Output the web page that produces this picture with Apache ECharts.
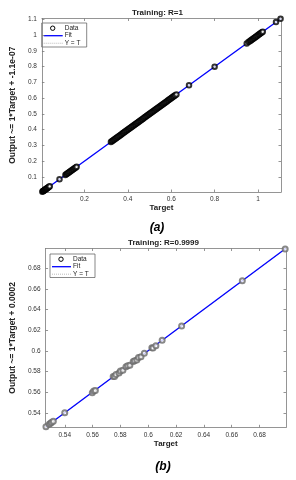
<!DOCTYPE html>
<html><head><meta charset="utf-8">
<script src="https://cdn.jsdelivr.net/npm/echarts@6/dist/echarts.min.js"></script>
<style>html,body{margin:0;padding:0;background:#fff}#c{width:296px;height:480px}</style>
</head><body><div id="c"></div>
<script>
// ---- Panel (a) data ----
const targetsA = [0.006,0.008,0.010,0.012,0.014,0.016,0.018,0.020,0.022,0.024,0.026,0.028,0.031,0.034,0.037,0.040,
  0.085,
  0.112,0.116,0.120,0.124,0.128,0.132,0.136,0.140,0.144,0.148,0.152,0.156,0.160,0.164,
  0.322,0.326,0.330,0.334,0.338,0.342,0.346,0.350,0.354,0.358,0.362,0.366,0.370,0.374,0.378,0.382,0.386,0.390,
  0.394,0.398,0.402,0.406,0.410,0.414,0.418,0.422,0.426,0.430,0.434,0.438,0.442,0.446,0.450,0.454,0.458,0.462,
  0.466,0.470,0.474,0.478,0.482,0.486,0.490,0.494,0.498,0.502,0.506,0.510,0.514,0.518,0.522,0.526,0.530,0.534,
  0.538,0.542,0.546,0.550,0.554,0.558,0.562,0.566,0.570,0.574,0.578,0.582,0.586,0.590,0.594,0.598,0.602,0.606,
  0.610,0.614,0.618,0.624,
  0.682,0.800,
  0.948,0.956,0.962,0.966,0.970,0.974,0.978,0.982,0.986,0.990,0.994,0.998,1.002,1.006,1.010,1.014,1.018,1.022,
  1.083,1.104];
const outputsA = targetsA.slice(); // R = 1: outputs equal targets
const fitA = [[0.004,0.004],[1.106,1.106]];
const ticksA = [0.2,0.4,0.6,0.8,1];
const yTicksA = [0.1,0.2,0.3,0.4,0.5,0.6,0.7,0.8,0.9,1,1.1];

// ---- Panel (b) data ----
const targetsB = [0.5265,0.5288,0.5298,0.5306,0.5318,0.5400,0.5598,0.5608,0.5620,0.5748,0.5758,0.5768,0.5790,0.5800,
  0.5818,0.5840,0.5852,0.5868,0.5892,0.5902,0.5918,0.5930,0.5948,0.5972,0.6026,0.6034,0.6055,0.6100,0.6240,0.6676,0.6984];
const outputsB = [0.5267,0.5292,0.5300,0.5310,0.5320,0.5402,0.5596,0.5612,0.5618,0.5754,0.5752,0.5772,0.5786,0.5806,
  0.5814,0.5846,0.5856,0.5862,0.5898,0.5906,0.5912,0.5936,0.5944,0.5978,0.6030,0.6028,0.6050,0.6104,0.6242,0.6678,0.6986];
const fitB = [[0.5262,0.5264],[0.699,0.6992]];
const ticksB = [0.54,0.56,0.58,0.6,0.62,0.64,0.66,0.68];

const legendNames = ['Data','Fit','Y = T'];

const pairs = (xs, ys) => xs.map((x,i)=>[x, ys[i]]);

const F = 'Liberation Sans, Arial, sans-serif';
const lblStyle = {fontFamily:F, fontSize:6.5, color:'#333'};
const axLine = {show:true, lineStyle:{color:'#7a7a7a', width:0.8}};
const tickIn = vals => ({show:true, inside:true, length:2.5, customValues:vals, lineStyle:{color:'#7a7a7a', width:0.8}});

function mainX(grid, min, max, vals, gap){
  return {type:'value', gridIndex:grid, min, max, position:'bottom',
    axisLine:axLine, axisTick:tickIn(vals), splitLine:{show:false},
    axisLabel:Object.assign({customValues:vals, margin:4, formatter:v=>String(+v.toFixed(3))}, lblStyle),
    name:'Target', nameLocation:'middle', nameGap:gap,
    nameTextStyle:{fontFamily:F, fontSize:8, fontWeight:'bold', color:'#222'}};
}
function mainY(grid, min, max, vals, name, gap){
  return {type:'value', gridIndex:grid, min, max, position:'left',
    axisLine:axLine, axisTick:tickIn(vals), splitLine:{show:false},
    axisLabel:Object.assign({customValues:vals, margin:5, formatter:v=>String(+v.toFixed(3))}, lblStyle),
    name, nameLocation:'middle', nameGap:gap,
    nameTextStyle:{fontFamily:F, fontSize:8.5, fontWeight:'bold', color:'#222'}};
}
function mirX(grid,min,max,vals){
  return {type:'value', gridIndex:grid, min, max, position:'top', axisLine:axLine, axisTick:tickIn(vals),
    axisLabel:{show:false}, splitLine:{show:false}};
}
function mirY(grid,min,max,vals){
  return {type:'value', gridIndex:grid, min, max, position:'right', axisLine:axLine, axisTick:tickIn(vals),
    axisLabel:{show:false}, splitLine:{show:false}};
}

// legend drawn as a graphic group (box + symbols + text)
function legendBox(x, y, w, h, dotColor){
  const rows = [5.2, 12.7, 20.2];
  const tx = 23, lx0 = 2, lx1 = 21;
  return {type:'group', x, y, z:100, children:[
    {type:'rect', shape:{x:0,y:0,width:w,height:h}, style:{fill:'#fff', stroke:'#555', lineWidth:0.7}},
    {type:'circle', shape:{cx:11, cy:rows[0], r:2.2}, style:{fill:'#fff', stroke:dotColor, lineWidth:1}},
    {type:'line', shape:{x1:lx0, y1:rows[1], x2:lx1, y2:rows[1]}, style:{stroke:'#0000ff', lineWidth:1.3}},
    {type:'line', shape:{x1:lx0, y1:rows[2], x2:lx1, y2:rows[2]}, style:{stroke:'#aaa', lineWidth:0.8, lineDash:[1,1]}},
    {type:'text', x:tx, y:rows[0], style:{text:legendNames[0], font:'6.5px '+F, fill:'#222', textVerticalAlign:'middle'}},
    {type:'text', x:tx, y:rows[1], style:{text:legendNames[1], font:'6.5px '+F, fill:'#222', textVerticalAlign:'middle'}},
    {type:'text', x:tx, y:rows[2], style:{text:legendNames[2], font:'6.5px '+F, fill:'#222', textVerticalAlign:'middle'}}
  ]};
}

const aMin=0.004, aMax=1.106, bMin=0.5262, bMax=0.699;

const chart = echarts.init(document.getElementById('c'), null, {renderer:'canvas'});
chart.setOption({
  animation:false,
  backgroundColor:'#fff',
  grid:[
    {left:34, top:18.5, width:247, height:173.5},
    {left:41.7, top:248.5, width:244.3, height:178.8}
  ],
  xAxis:[ mainX(0,aMin,aMax,ticksA,11.5), mirX(0,aMin,aMax,ticksA),
          mainX(1,bMin,bMax,ticksB,12.5), mirX(1,bMin,bMax,ticksB) ],
  yAxis:[ mainY(0,aMin,aMax,yTicksA,'Output ~= 1*Target + -1.1e-07',19), mirY(0,aMin,aMax,yTicksA),
          mainY(1,bMin,bMax,ticksB,'Output ~= 1*Target + 0.0002',23), mirY(1,bMin,bMax,ticksB) ],
  series:[
    {name:'Y = T', type:'line', xAxisIndex:0, yAxisIndex:0, symbol:'none', data:[[aMin,aMin],[aMax,aMax]],
     lineStyle:{color:'#999', width:0.8, type:'dotted'}, z:1},
    {name:'Fit', type:'line', xAxisIndex:0, yAxisIndex:0, symbol:'none', data:fitA,
     lineStyle:{color:'#0000ff', width:1.3}, z:2},
    {name:'Data', type:'scatter', xAxisIndex:0, yAxisIndex:0, symbol:'emptyCircle', symbolSize:4.5,
     data:pairs(targetsA,outputsA), itemStyle:{color:'#000', borderColor:'#000', borderWidth:1.2}, z:3},
    {name:'Y = T', type:'line', xAxisIndex:2, yAxisIndex:2, symbol:'none', data:[[bMin,bMin],[bMax,bMax]],
     lineStyle:{color:'#999', width:0.8, type:'dotted'}, z:1},
    {name:'Fit', type:'line', xAxisIndex:2, yAxisIndex:2, symbol:'none', data:fitB,
     lineStyle:{color:'#0000ff', width:1.3}, z:2},
    {name:'Data', type:'scatter', xAxisIndex:2, yAxisIndex:2, symbol:'emptyCircle', symbolSize:5,
     data:pairs(targetsB,outputsB), itemStyle:{color:'#6a6a6a', borderColor:'#6a6a6a', borderWidth:0.8}, z:3}
  ],
  graphic:[
    legendBox(41.7, 23, 45, 24, '#000'),
    legendBox(50, 254, 45, 23.5, '#000'),
    {type:'text', x:157.5, y:12.5, style:{text:'Training: R=1', font:'bold 8px '+F, fill:'#222', textAlign:'center', textVerticalAlign:'middle'}},
    {type:'text', x:157, y:228, style:{text:'(a)', font:'italic bold 12px '+F, fill:'#000', textAlign:'center', textVerticalAlign:'middle'}},
    {type:'text', x:163.5, y:243, style:{text:'Training: R=0.9999', font:'bold 8px '+F, fill:'#222', textAlign:'center', textVerticalAlign:'middle'}},
    {type:'text', x:163, y:466.5, style:{text:'(b)', font:'italic bold 12px '+F, fill:'#000', textAlign:'center', textVerticalAlign:'middle'}}
  ]
});
</script></body></html>
